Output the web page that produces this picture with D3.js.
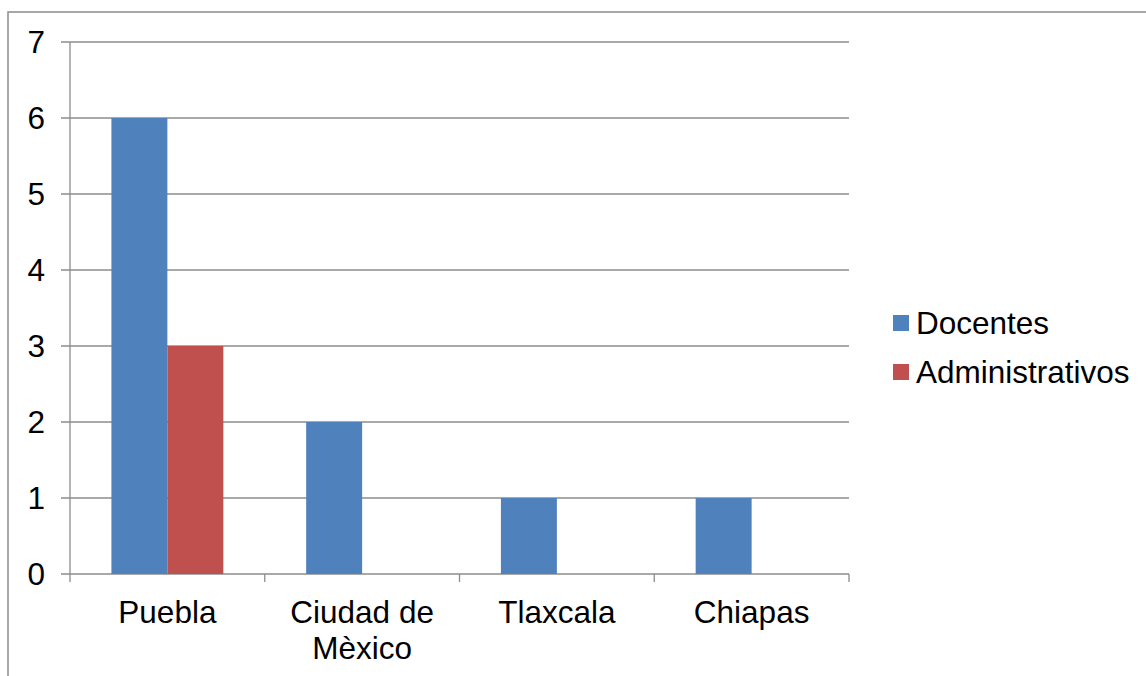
<!DOCTYPE html>
<html>
<head>
<meta charset="utf-8">
<script src="https://cdn.jsdelivr.net/npm/d3@7"></script>
<style>
  body { margin: 0; background: #fff; }
  svg { display: block; }
</style>
</head>
<body>
<svg id="chart"></svg>
<script>
let categories = ["Puebla", "Ciudad de Mèxico", "Tlaxcala", "Chiapas"];
let series = ["Docentes", "Administrativos"];
let docentes = [6, 2, 1, 1];
let administrativos = [3, 0, 0, 0];
let yTicks = [0, 1, 2, 3, 4, 5, 6, 7];
let colors = ["#4F81BD", "#C0504D"];

let width = 1146;
let height = 676;
let plotLeft = 70, plotRight = 849, plotTop = 42, plotBottom = 574;
let fontFam = "Arial, 'Liberation Sans', sans-serif";
let fontSize = "31.5px";

let svg = d3.select('#chart')
            .attr('width', width)
            .attr('height', height);

// outer frame (only top and left visible)
svg.append('path')
    .attr('d', `M8,${height} L8,12 L${width},12`)
    .attr('fill', 'none')
    .attr('stroke', '#8c8c8c')
    .attr('stroke-width', 1.5);

let x = d3.scaleBand()
          .domain(categories)
          .range([plotLeft, plotRight])
          .padding(0);

let xs = d3.scaleBand()
           .domain(series)
           .range([0, x.bandwidth()])
           .paddingInner(0)
           .paddingOuter(0.74);

let y = d3.scaleLinear()
          .domain([0, 7])
          .range([plotBottom, plotTop]);

// gridlines
svg.append('g').selectAll('line')
    .data(yTicks).enter()
    .append('line')
      .attr('x1', plotLeft - 9)
      .attr('x2', plotRight)
      .attr('y1', d => y(d))
      .attr('y2', d => y(d))
      .attr('stroke', '#8c8c8c')
      .attr('stroke-width', 1.3);

// y axis line
svg.append('line')
    .attr('x1', plotLeft).attr('x2', plotLeft)
    .attr('y1', plotTop).attr('y2', plotBottom)
    .attr('stroke', '#8c8c8c')
    .attr('stroke-width', 1.3);

// x ticks
let xTickPos = categories.map(c => x(c)).concat([plotRight]);
svg.append('g').selectAll('line')
    .data(xTickPos).enter()
    .append('line')
      .attr('x1', d => d).attr('x2', d => d)
      .attr('y1', plotBottom).attr('y2', plotBottom + 8)
      .attr('stroke', '#8c8c8c')
      .attr('stroke-width', 1.3);

// y labels
svg.append('g').selectAll('text')
    .data(yTicks).enter()
    .append('text')
      .attr('x', 45)
      .attr('y', d => y(d))
      .attr('dy', '0.35em')
      .attr('text-anchor', 'end')
      .style('font-family', fontFam)
      .style('font-size', fontSize)
      .text(d => d);

// bars
let rows = categories.map((c, i) => ({cat: c, vals: [docentes[i], administrativos[i]]}));
let groups = svg.append('g').selectAll('g')
    .data(rows).enter()
    .append('g')
      .attr('transform', d => `translate(${x(d.cat)},0)`);

groups.selectAll('rect')
    .data(d => d.vals.map((v, j) => ({s: series[j], v: v, c: colors[j]})))
    .enter().append('rect')
      .attr('x', d => xs(d.s))
      .attr('width', xs.bandwidth())
      .attr('y', d => y(d.v))
      .attr('height', d => y(0) - y(d.v))
      .attr('fill', d => d.c);

// x labels (wrapped)
svg.append('g').selectAll('text')
    .data(categories).enter()
    .append('text')
      .attr('x', d => x(d) + x.bandwidth() / 2)
      .attr('y', 623)
      .attr('text-anchor', 'middle')
      .style('font-family', fontFam)
      .style('font-size', fontSize)
      .text(d => d)
      .call(wrap, 175);

// legend
let legend = svg.append('g').selectAll('g')
    .data(series).enter()
    .append('g')
      .attr('transform', (d, i) => `translate(893,${323 + i * 49})`);

legend.append('rect')
    .attr('x', 0).attr('y', -8)
    .attr('width', 16).attr('height', 16)
    .attr('fill', (d, i) => colors[i]);

legend.append('text')
    .attr('x', 23)
    .attr('y', 0)
    .attr('dy', '0.35em')
    .style('font-family', fontFam)
    .style('font-size', fontSize)
    .text(d => d);

function wrap(text, w) {
    text.each(function () {
        var text = d3.select(this),
            words = text.text().split(/\s+/).reverse(),
            word,
            line = [],
            lineNumber = 0,
            xx = text.attr("x"),
            yy = text.attr("y"),
            tspan = text.text(null).append("tspan").attr("x", xx).attr("y", yy);
        while (word = words.pop()) {
            line.push(word);
            tspan.text(line.join(" "));
            if (tspan.node().getComputedTextLength() > w) {
                line.pop();
                tspan.text(line.join(" "));
                line = [word];
                tspan = text.append("tspan")
                            .attr("x", xx)
                            .attr("y", +yy + (++lineNumber) * 36)
                            .text(word);
            }
        }
    });
}
</script>
</body>
</html>
